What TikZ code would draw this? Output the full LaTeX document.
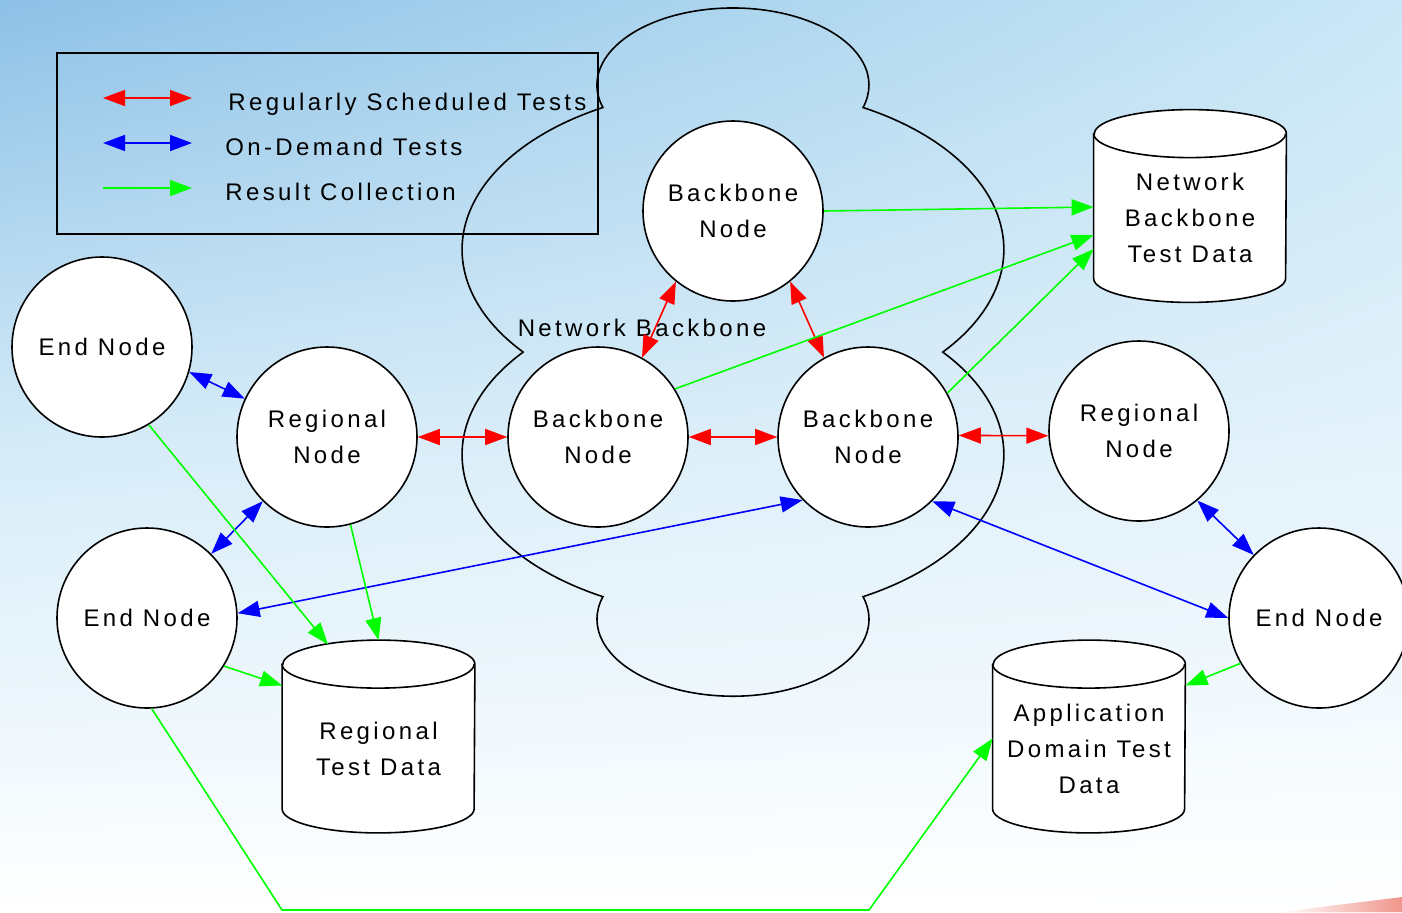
\documentclass[tikz,border=0pt]{standalone}
\usepackage{fontspec}
\setmainfont{Liberation Sans}[LetterSpace=14]
\usetikzlibrary{arrows.meta,shadings}
\definecolor{bgTL}{RGB}{141,193,230}
\definecolor{bgTR}{RGB}{201,231,246}
\definecolor{bgML}{RGB}{214,236,248}
\definecolor{bgMR}{RGB}{228,242,250}
\definecolor{streak}{RGB}{240,150,140}
\definecolor{lgreen}{RGB}{0,255,0}
\newcommand{\diagfont}{\fontsize{12}{18}\selectfont}
\pgfdeclarelayer{bglayer}
\pgfdeclarelayer{midlayer}
\pgfsetlayers{bglayer,midlayer,main}
\newcommand{\drawcyl}[1]{%
  \filldraw[fill=white,draw=black,line width=0.8pt] (#1.north west) -- ([yshift=12pt]#1.south west)
    arc[start angle=180,end angle=360,x radius=48pt,y radius=12pt] -- (#1.north east)
    arc[start angle=0,end angle=180,x radius=48pt,y radius=12pt] -- cycle;
  \draw[line width=0.8pt] (#1.north west) arc[start angle=180,end angle=360,x radius=48pt,y radius=12pt];}
\begin{document}
\begin{tikzpicture}[x=0.5pt,y=-0.5pt,
  >={Triangle[length=11pt,width=8pt]},
  circ/.style={circle,draw=black,line width=0.8pt,fill=white,minimum size=90pt,inner sep=0pt,align=center,font=\diagfont},
  cylbody/.style={rectangle,minimum width=96pt,minimum height=84pt,inner sep=0pt,align=center,font=\diagfont},
  redc/.style={draw=red,line width=0.8pt},
  bluec/.style={draw=blue,line width=0.8pt},
  greenc/.style={draw=lgreen,line width=0.8pt},
  legtext/.style={anchor=base west,inner sep=0pt,font=\diagfont}]
\useasboundingbox (0,0) rectangle (1402,912);
\begin{pgfonlayer}{bglayer}
\shade[upper left=bgTL,upper right=bgTR,lower left=bgML,lower right=bgMR] (0,0) rectangle (1402,452);
\shade[upper left=bgML,upper right=bgMR,lower left=white,lower right=white] (0,450) rectangle (1402,912);
\shade[left color=white,right color=streak] (1280,912) -- (1402,897) -- (1402,912) -- cycle;
\end{pgfonlayer}

% cloud
\draw[line width=0.8pt] (602.9,107.5)
  arc[start angle=163,end angle=377,x radius=136,y radius=77]
  arc[start angle=-61.3,end angle=39.25,x radius=271,y radius=162]
  arc[start angle=-39.25,end angle=61.3,x radius=271,y radius=162]
  arc[start angle=-17,end angle=197,x radius=136,y radius=77]
  arc[start angle=118.7,end angle=219.25,x radius=271,y radius=162]
  arc[start angle=140.75,end angle=241.3,x radius=271,y radius=162] -- cycle;
\node[anchor=base,inner sep=0pt,font=\diagfont] (cloudlbl) at (642,336) {Network Backbone};

% legend
\node[draw=black,line width=0.9pt,minimum width=270.5pt,minimum height=90.5pt,inner sep=0pt] (legend) at (327.5,143.5) {};
\coordinate (lra) at (103,98);  \coordinate (lrb) at (192,98);
\coordinate (lba) at (103,143); \coordinate (lbb) at (192,143);
\coordinate (lga) at (103,188); \coordinate (lgb) at (192,188);
\draw[redc,<->] (lra) -- (lrb);
\draw[bluec,<->] (lba) -- (lbb);
\draw[greenc,->] (lga) -- (lgb);
\node[legtext] (lt1) at (228,110) {Regularly Scheduled Tests};
\node[legtext] (lt2) at (225,155) {On-Demand Tests};
\node[legtext] (lt3) at (225,200) {Result Collection};

% circles
\node[circ] (ETL) at (102,347) {End Node};
\node[circ] (RL)  at (327,437) {Regional\\Node};
\node[circ] (BBM) at (598,437) {Backbone\\Node};
\node[circ] (BBT) at (733,211) {Backbone\\Node};
\node[circ] (BBR) at (868,437) {Backbone\\Node};
\node[circ] (RR)  at (1139,431) {Regional\\Node};
\node[circ] (EBL) at (147,618) {End Node};
\node[circ] (ER)  at (1319,618) {End Node};

% cylinders
\node[cylbody] (NB)   at (1190,218) {Network\\Backbone\\Test Data};
\node[cylbody] (RTD)  at (378.5,748.5) {Regional\\Test Data};
\node[cylbody] (ADTD) at (1089,748.5) {Application\\Domain Test\\Data};
\begin{pgfonlayer}{midlayer}
\drawcyl{NB}
\drawcyl{RTD}
\drawcyl{ADTD}
\end{pgfonlayer}

% red: regularly scheduled tests
\draw[redc,<->] (RL.east) -- (BBM.west);
\draw[redc,<->] (BBM.east) -- (BBR.west);
\draw[redc,<->] (BBR.1) -- (RR.183);
\draw[redc,<->] (BBM.61) -- (BBT.231);
\draw[redc,<->] (BBT.-51) -- (BBR.119);

% blue: on-demand tests
\draw[bluec,<->] (ETL.-16) -- (RL.155);
\draw[bluec,<->] (RL.225) -- (EBL.45);
\draw[bluec,<->] (EBL.3) -- (BBR.224);
\draw[bluec,<->] (BBR.-45) -- (ER.180);
\draw[bluec,<->] (RR.-50) -- (ER.136);

% green: result collection
\draw[greenc,->] (BBT.east) -- ([yshift=5.5pt]NB.west);
\draw[greenc,->] (BBM.32) -- ([yshift=-8.5pt]NB.west);
\draw[greenc,->] (BBR.29) -- ([yshift=-15.5pt]NB.west);
\draw[greenc,->] (ETL.-59) -- ([xshift=-25.25pt,yshift=52pt]RTD.center);
\draw[greenc,->] (RL.-75) -- ([yshift=12pt]RTD.north);
\draw[greenc,->] (EBL.-32) -- ([yshift=31.5pt]RTD.west);
\coordinate (bend1) at (282,910);
\coordinate (bend2) at (869,910);
\draw[greenc,->] (EBL.-87) -- (bend1) -- (bend2) -- ([yshift=5pt]ADTD.west);
\draw[greenc,->] (ER.210) -- ([yshift=31.5pt]ADTD.east);
\end{tikzpicture}
\end{document}
